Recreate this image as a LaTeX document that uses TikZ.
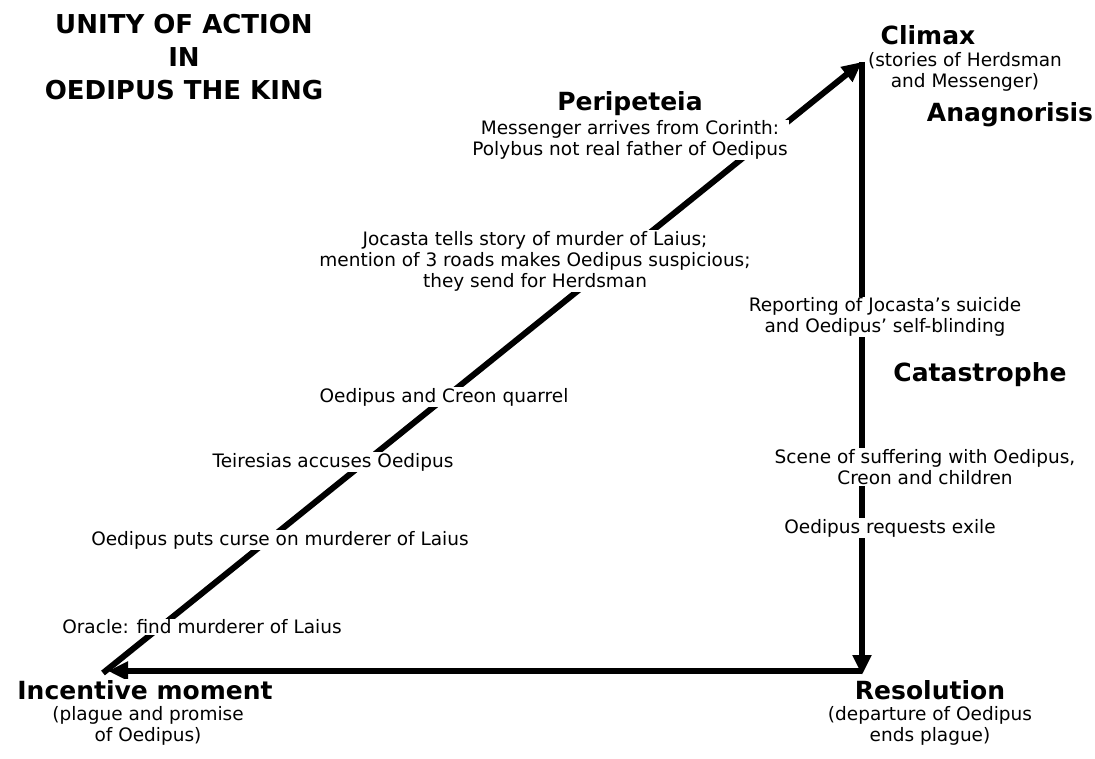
\documentclass[tikz,border=0pt]{standalone}
\usepackage{fontspec}
\setmainfont{DejaVu Sans}
\usetikzlibrary{arrows.meta}
\tikzset{
  conn/.style={line width=6pt,-{Triangle[length=20pt,width=18pt]}},
  lbl/.style={fill=white,inner sep=1pt,align=center,font=\fontsize{18.5}{21}\selectfont},
  head/.style={fill=white,inner sep=1pt,align=center,font=\fontsize{25}{28}\selectfont\bfseries},
  ttl/.style={inner sep=0pt,align=center,font=\fontsize{26}{33}\selectfont\bfseries}
}
\begin{document}
\begin{tikzpicture}[x=1pt,y=-1pt]
\useasboundingbox (0,0) rectangle (1095,759);
\coordinate (apex) at (862,62);
\coordinate (br) at (862,675);
\coordinate (bl) at (103,673);
\coordinate (hl) at (862,671);
\coordinate (htip) at (108,671);
\draw[conn] (bl) -- (apex);
\draw[conn] (apex) -- (br);
\draw[conn] (hl) -- (htip);

\node[ttl] (title) at (184,57) {UNITY OF ACTION\\IN\\OEDIPUS THE KING};

\node[head] (climax) at (928,35) {Climax};
\node[lbl,inner sep=0pt] (climaxd) at (965,72) {(stories of Herdsman\\and Messenger)};
\node[head] (anag) at (1010,115) {Anagnorisis};

\node[head] (peri) at (630,104) {Peripeteia};
\node[lbl] (mess) at (630,140) {Messenger arrives from Corinth:\\Polybus not real father of Oedipus};

\node[lbl] (joc) at (535,261) {Jocasta tells story of murder of Laius;\\mention of 3 roads makes Oedipus suspicious;\\they send for Herdsman};

\node[lbl] (rep) at (885,317) {Reporting of Jocasta's suicide\\and Oedipus' self-blinding};
\node[head] (cat) at (980,375) {Catastrophe};

\node[lbl] (quar) at (444,397) {Oedipus and Creon quarrel};
\node[lbl] (scene) at (925,467) {Scene of suffering with Oedipus,\\Creon and children};
\node[lbl] (teir) at (333,462) {Teiresias accuses Oedipus};
\node[lbl] (exile) at (890,528) {Oedipus requests exile};
\node[lbl] (curse) at (280,540) {Oedipus puts curse on murderer of Laius};
\node[lbl] (oracle) at (202,627) {Oracle: find murderer of Laius};

\node[head] (inc) at (145,690) {Incentive moment};
\node[lbl] (incd) at (148,726) {(plague and promise\\of Oedipus)};
\node[head] (res) at (930,690) {Resolution};
\node[lbl] (resd) at (930,726) {(departure of Oedipus\\ends plague)};
\end{tikzpicture}
\end{document}
